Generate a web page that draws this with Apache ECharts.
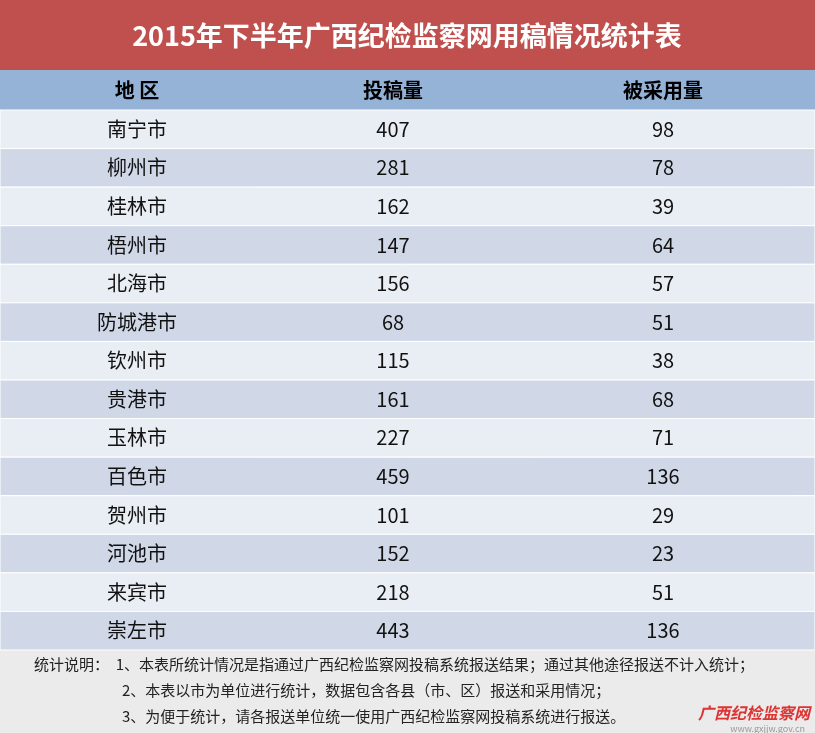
<!DOCTYPE html>
<html><head><meta charset="utf-8">
<script src="https://cdn.jsdelivr.net/npm/echarts@6/dist/echarts.min.js"></script>
<style>html,body{margin:0;padding:0;background:#fff}#c{width:815px;height:733px}</style>
</head><body><div id="c"></div>
<script>
const title = '2015年下半年广西纪检监察网用稿情况统计表';
const headers = ['地 区', '投稿量', '被采用量'];
const cities = ['南宁市','柳州市','桂林市','梧州市','北海市','防城港市','钦州市','贵港市','玉林市','百色市','贺州市','河池市','来宾市','崇左市'];
const submitted = [407,281,162,147,156,68,115,161,227,459,101,152,218,443];
const adopted = [98,78,39,64,57,51,38,68,71,136,29,23,51,136];
const notes = ['统计说明：  1、本表所统计情况是指通过广西纪检监察网投稿系统报送结果；通过其他途径报送不计入统计；',
  '2、本表以市为单位进行统计，数据包含各县（市、区）报送和采用情况；',
  '3、为便于统计，请各报送单位统一使用广西纪检监察网投稿系统进行报送。'];
const F = '"Noto Sans CJK SC","Microsoft YaHei",sans-serif';
const colX = [137, 393, 663];
const chart = echarts.init(document.getElementById('c'));
chart.setOption({
  animation: false,
  grid: {left: 0, right: 0, top: 110, bottom: 83},
  xAxis: {type: 'value', min: 0, max: 815, show: false},
  yAxis: {type: 'category', data: cities, inverse: true, show: false},
  series: [{
    type: 'custom',
    data: cities.map((c, i) => [i, c, submitted[i], adopted[i]]),
    encode: {y: 0},
    renderItem: function (params, api) {
      const i = api.value(0);
      const yc = api.coord([0, cities[i]])[1];
      const h = api.size([0, 1])[1];
      const children = [{type: 'rect', shape: {x: 0, y: yc - h / 2, width: 815, height: h},
        style: {fill: i % 2 === 0 ? '#e9edf4' : '#d0d8e8', stroke: '#ffffff', lineWidth: 1}}];
      [cities[i], submitted[i], adopted[i]].forEach((t, k) => {
        children.push({type: 'text', style: {text: String(t), x: api.coord([colX[k], 0])[0], y: yc,
          align: 'center', verticalAlign: 'middle', font: '20px ' + F, fill: '#111'}});
      });
      return {type: 'group', children};
    }
  }],
  graphic: [
    {type: 'rect', shape: {x: 0, y: 0, width: 815, height: 70}, style: {fill: '#c0504d'}},
    {type: 'text', style: {text: title, x: 407, y: 36, align: 'center', verticalAlign: 'middle', font: 'bold 27px ' + F, fill: '#fff'}},
    {type: 'rect', shape: {x: 0, y: 70, width: 815, height: 40}, style: {fill: '#95b3d7'}},
    ...headers.map((t, k) => ({type: 'text', style: {text: t, x: colX[k], y: 90, align: 'center', verticalAlign: 'middle', font: 'bold 20px ' + F, fill: '#000'}})),
    {type: 'rect', shape: {x: 0, y: 650, width: 815, height: 83}, style: {fill: '#ebebeb'}},
    {type: 'text', style: {text: notes[0], x: 34, y: 664, verticalAlign: 'middle', font: '15px ' + F, fill: '#222'}},
    {type: 'text', style: {text: notes[1], x: 122, y: 690, verticalAlign: 'middle', font: '15px ' + F, fill: '#222'}},
    {type: 'text', style: {text: notes[2], x: 122, y: 716, verticalAlign: 'middle', font: '15px ' + F, fill: '#222'}},
    {type: 'text', style: {text: '广西纪检监察网', x: 810, y: 713, align: 'right', verticalAlign: 'middle', font: 'bold italic 16px ' + F, fill: '#d33'}},
    {type: 'text', style: {text: 'www.gxjjw.gov.cn', x: 805, y: 729, align: 'right', verticalAlign: 'middle', font: '9px ' + F, fill: '#999'}}
  ]
});
</script></body></html>
